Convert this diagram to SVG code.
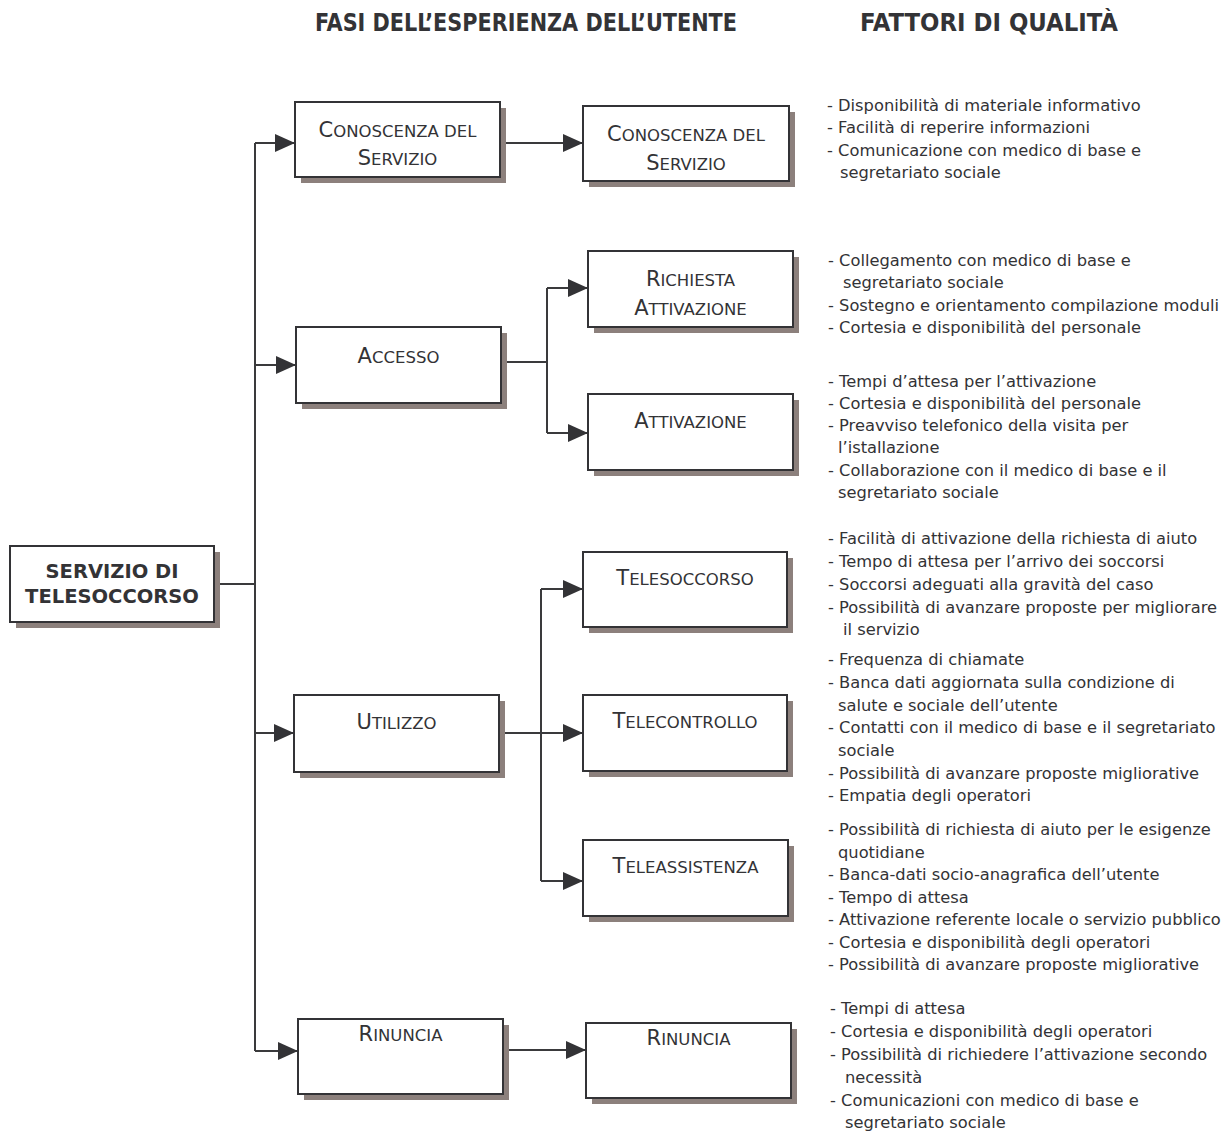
<svg xmlns="http://www.w3.org/2000/svg" width="1232" height="1131" viewBox="0 0 1232 1131">
  <defs>
    <style>
      .box { fill: #ffffff; stroke: #333336; stroke-width: 2; }
      .shadow { fill: #8c807c; }
      .lbl { font-family: "DejaVu Sans", "Liberation Sans", sans-serif; font-size: 16.5px; fill: #333336; text-anchor: middle; }
      .cap { font-size: 21px; }
      .root { font-family: "DejaVu Sans", "Liberation Sans", sans-serif; font-size: 19.5px; font-weight: bold; fill: #333336; text-anchor: middle; }
      .head { font-family: "DejaVu Sans Condensed", "DejaVu Sans", sans-serif; font-size: 24px; font-weight: bold; fill: #333336; }
      .fac { font-family: "DejaVu Sans", "Liberation Sans", sans-serif; font-size: 16.3px; fill: #333336; }
      .wire { fill: none; stroke: #3a3a3c; stroke-width: 2; }
      .arrow { marker-end: url(#tip); }
    </style>
    <marker id="tip" markerUnits="userSpaceOnUse" markerWidth="20" markerHeight="18" refX="20" refY="9" orient="auto">
      <path d="M0,0 L20,9 L0,18 Z" fill="#333336"/>
    </marker>
  </defs>
  <rect width="1232" height="1131" fill="#ffffff"/>

  <!-- column headings -->
  <g id="headings">
    <text class="head" x="315" y="31" textLength="422" lengthAdjust="spacingAndGlyphs">FASI DELL’ESPERIENZA DELL’UTENTE</text>
    <text class="head" x="860" y="31" textLength="258" lengthAdjust="spacingAndGlyphs">FATTORI DI QUALITÀ</text>
  </g>

  <!-- connectors -->
  <g id="connectors">
    <path class="wire" d="M255,143 V1051"/>
    <path class="wire" d="M214,584 H255"/>
    <path class="wire arrow" d="M255,143 H295"/>
    <path class="wire arrow" d="M255,365 H296"/>
    <path class="wire arrow" d="M255,733 H294"/>
    <path class="wire arrow" d="M255,1051 H298"/>
    <path class="wire arrow" d="M500,143 H583"/>
    <path class="wire" d="M501,362 H547"/>
    <path class="wire" d="M547,288 V433"/>
    <path class="wire arrow" d="M547,288 H588"/>
    <path class="wire arrow" d="M547,433 H588"/>
    <path class="wire arrow" d="M499,733 H583"/>
    <path class="wire" d="M541,589 V881"/>
    <path class="wire arrow" d="M541,589 H583"/>
    <path class="wire arrow" d="M541,881 H583"/>
    <path class="wire arrow" d="M503,1050 H586"/>
  </g>

  <!-- root node -->
  <g id="servizio">
    <rect class="shadow" x="16" y="552" width="204" height="76"/>
    <rect class="box" x="10" y="546" width="204" height="76"/>
    <text class="root" x="112" y="578">SERVIZIO DI</text>
    <text class="root" x="112" y="603">TELESOCCORSO</text>
  </g>

  <!-- phases -->
  <g id="fase-conoscenza">
    <rect class="shadow" x="301" y="108" width="205" height="75"/>
    <rect class="box" x="295" y="102" width="205" height="75"/>
    <text class="lbl" x="397.5" y="136.5"><tspan class="cap">C</tspan>ONOSCENZA DEL</text>
    <text class="lbl" x="397.5" y="165"><tspan class="cap">S</tspan>ERVIZIO</text>
  </g>
  <g id="fase-accesso">
    <rect class="shadow" x="302" y="333" width="205" height="76"/>
    <rect class="box" x="296" y="327" width="205" height="76"/>
    <text class="lbl" x="398.5" y="363"><tspan class="cap">A</tspan>CCESSO</text>
  </g>
  <g id="fase-utilizzo">
    <rect class="shadow" x="300" y="701" width="205" height="77"/>
    <rect class="box" x="294" y="695" width="205" height="77"/>
    <text class="lbl" x="396.5" y="729"><tspan class="cap">U</tspan>TILIZZO</text>
  </g>
  <g id="fase-rinuncia">
    <rect class="shadow" x="304" y="1025" width="205" height="75"/>
    <rect class="box" x="298" y="1019" width="205" height="75"/>
    <text class="lbl" x="400.5" y="1041"><tspan class="cap">R</tspan>INUNCIA</text>
  </g>

  <!-- sub-phases -->
  <g id="sub-conoscenza">
    <rect class="shadow" x="589" y="112" width="206" height="75"/>
    <rect class="box" x="583" y="106" width="206" height="75"/>
    <text class="lbl" x="686" y="141"><tspan class="cap">C</tspan>ONOSCENZA DEL</text>
    <text class="lbl" x="686" y="169.5"><tspan class="cap">S</tspan>ERVIZIO</text>
  </g>
  <g id="sub-richiesta">
    <rect class="shadow" x="594" y="257" width="205" height="76"/>
    <rect class="box" x="588" y="251" width="205" height="76"/>
    <text class="lbl" x="690.5" y="286"><tspan class="cap">R</tspan>ICHIESTA</text>
    <text class="lbl" x="690.5" y="315"><tspan class="cap">A</tspan>TTIVAZIONE</text>
  </g>
  <g id="sub-attivazione">
    <rect class="shadow" x="594" y="400" width="205" height="76"/>
    <rect class="box" x="588" y="394" width="205" height="76"/>
    <text class="lbl" x="690.5" y="428"><tspan class="cap">A</tspan>TTIVAZIONE</text>
  </g>
  <g id="sub-telesoccorso">
    <rect class="shadow" x="589" y="558" width="204" height="75"/>
    <rect class="box" x="583" y="552" width="204" height="75"/>
    <text class="lbl" x="685" y="585"><tspan class="cap">T</tspan>ELESOCCORSO</text>
  </g>
  <g id="sub-telecontrollo">
    <rect class="shadow" x="589" y="701" width="204" height="76"/>
    <rect class="box" x="583" y="695" width="204" height="76"/>
    <text class="lbl" x="685" y="728"><tspan class="cap">T</tspan>ELECONTROLLO</text>
  </g>
  <g id="sub-teleassistenza">
    <rect class="shadow" x="589" y="846" width="205" height="76"/>
    <rect class="box" x="583" y="840" width="205" height="76"/>
    <text class="lbl" x="685.5" y="873"><tspan class="cap">T</tspan>ELEASSISTENZA</text>
  </g>
  <g id="sub-rinuncia">
    <rect class="shadow" x="592" y="1029" width="205" height="75"/>
    <rect class="box" x="586" y="1023" width="205" height="75"/>
    <text class="lbl" x="688.5" y="1045"><tspan class="cap">R</tspan>INUNCIA</text>
  </g>

  <!-- quality factors -->
  <g id="fattori-conoscenza" class="fac">
    <text x="827" y="110.5">- Disponibilità di materiale informativo</text>
    <text x="827" y="133">- Facilità di reperire informazioni</text>
    <text x="827" y="155.5">- Comunicazione con medico di base e</text>
    <text x="840" y="178">segretariato sociale</text>
  </g>
  <g id="fattori-richiesta" class="fac">
    <text x="828" y="265.5">- Collegamento con medico di base e</text>
    <text x="843" y="288">segretariato sociale</text>
    <text x="828" y="310.5">- Sostegno e orientamento compilazione moduli</text>
    <text x="828" y="333">- Cortesia e disponibilità del personale</text>
  </g>
  <g id="fattori-attivazione" class="fac">
    <text x="828" y="386.5">- Tempi d’attesa per l’attivazione</text>
    <text x="828" y="408.5">- Cortesia e disponibilità del personale</text>
    <text x="828" y="430.5">- Preavviso telefonico della visita per</text>
    <text x="838" y="453">l’istallazione</text>
    <text x="828" y="476">- Collaborazione con il medico di base e il</text>
    <text x="838" y="498">segretariato sociale</text>
  </g>
  <g id="fattori-telesoccorso" class="fac">
    <text x="828" y="544">- Facilità di attivazione della richiesta di aiuto</text>
    <text x="828" y="567">- Tempo di attesa per l’arrivo dei soccorsi</text>
    <text x="828" y="590">- Soccorsi adeguati alla gravità del caso</text>
    <text x="828" y="612.5">- Possibilità di avanzare proposte per migliorare</text>
    <text x="843" y="635">il servizio</text>
  </g>
  <g id="fattori-telecontrollo" class="fac">
    <text x="828" y="665">- Frequenza di chiamate</text>
    <text x="828" y="688">- Banca dati aggiornata sulla condizione di</text>
    <text x="838" y="710.5">salute e sociale dell’utente</text>
    <text x="828" y="733">- Contatti con il medico di base e il segretariato</text>
    <text x="838" y="756">sociale</text>
    <text x="828" y="778.5">- Possibilità di avanzare proposte migliorative</text>
    <text x="828" y="801">- Empatia degli operatori</text>
  </g>
  <g id="fattori-teleassistenza" class="fac">
    <text x="828" y="835">- Possibilità di richiesta di aiuto per le esigenze</text>
    <text x="838" y="857.5">quotidiane</text>
    <text x="828" y="880">- Banca-dati socio-anagrafica dell’utente</text>
    <text x="828" y="902.5">- Tempo di attesa</text>
    <text x="828" y="925">- Attivazione referente locale o servizio pubblico</text>
    <text x="828" y="947.5">- Cortesia e disponibilità degli operatori</text>
    <text x="828" y="970">- Possibilità di avanzare proposte migliorative</text>
  </g>
  <g id="fattori-rinuncia" class="fac">
    <text x="830" y="1014">- Tempi di attesa</text>
    <text x="830" y="1037">- Cortesia e disponibilità degli operatori</text>
    <text x="830" y="1060">- Possibilità di richiedere l’attivazione secondo</text>
    <text x="845" y="1083">necessità</text>
    <text x="830" y="1106">- Comunicazioni con medico di base e</text>
    <text x="845" y="1128">segretariato sociale</text>
  </g>
</svg>
